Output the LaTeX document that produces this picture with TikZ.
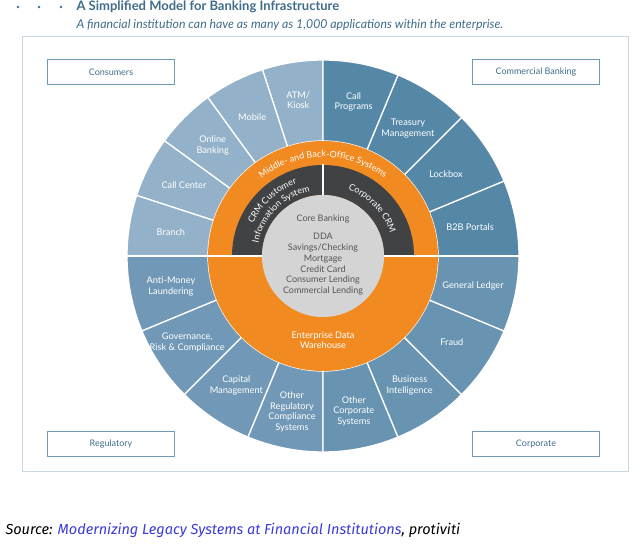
\documentclass[tikz,border=0pt]{standalone}
\usepackage{fontspec}
\setmainfont{Lato}
\newfontfamily\srcfont{Fira Sans}
\usetikzlibrary{positioning, decorations.text}

\definecolor{titleblue}{HTML}{3F6C8A}
\definecolor{boxblue}{HTML}{6F9AB5}
\definecolor{framegrey}{HTML}{C9D8E2}
\definecolor{ulblue}{HTML}{93B2C9}
\definecolor{urblue}{HTML}{5587A7}
\definecolor{llblue}{HTML}{7199B7}
\definecolor{lrblue}{HTML}{6893B1}
\definecolor{ringorange}{HTML}{F28A22}
\definecolor{darkring}{HTML}{404244}
\definecolor{coregrey}{HTML}{D4D4D4}
\definecolor{coretext}{HTML}{555555}
\definecolor{linkblue}{HTML}{3B3BD6}

\tikzset{
    segment/.style={draw=white, line width=1.3pt},
    seglabel/.style={text=white, font=\fontsize{9.2}{10.5}\selectfont, align=center},
    groupbox/.style={draw=boxblue, line width=1pt, minimum width=127pt, minimum height=25pt,
        text=titleblue, font=\fontsize{9}{10}\selectfont}
}

\begin{document}
\begin{tikzpicture}[x=1pt, y=1pt]
    \useasboundingbox (0,0) rectangle (640,546);

    % Title
    \node (title) [anchor=west, text=titleblue, font=\fontsize{13}{15}\selectfont\bfseries] at (73,539) {A Simplified Model for Banking Infrastructure};
    \node (subtitle) [anchor=west, text=titleblue, font=\fontsize{12.3}{14}\selectfont\itshape] at (73,521) {A financial institution can have as many as 1,000 applications within the enterprise.};
    \foreach \bx in {18,39,61}
        \fill[titleblue] (\bx,539) circle (1.3pt);

    % Frame
    \draw[framegrey, line width=1pt] (22,74) rectangle (628,509);

    % Groups
    \node (consumers) [groupbox] at (111,474) {Consumers};
    \node (commercial) [groupbox] at (536,474) {Commercial Banking};
    \node (regulatory) [groupbox] at (111,102) {Regulatory};
    \node (corporate) [groupbox] at (536,102) {Corporate};

    \begin{scope}[shift={(323,290)}]
        % Outer segments
        \foreach \a in {90,108,...,162}
            \fill[ulblue, segment] (\a:196) arc (\a:\a+18:196) -- (\a+18:115) arc (\a+18:\a:115) -- cycle;
        \foreach \a/\c in {0/urblue,22.5/urblue,45/urblue,67.5/urblue,
                           180/llblue,202.5/llblue,225/llblue,247.5/llblue,
                           270/lrblue,292.5/lrblue,315/lrblue,337.5/lrblue}
            \fill[\c, segment] (\a:196) arc (\a:\a+22.5:196) -- (\a+22.5:115) arc (\a+22.5:\a:115) -- cycle;

        % Middle rings
        \fill[ringorange] (0,0) circle (115);
        \fill[darkring] (0:91) arc (0:180:91) -- (180:61) arc (180:0:61) -- cycle;
        \draw[white, line width=1.3pt] (-196,0) -- (196,0);
        \draw[white, line width=1.3pt] (0,0) -- (0,92);
        \fill[coregrey] (0,0) circle (61);

        % Outer labels
        \node (branch) [seglabel] at (171:154) {Branch};
        \node (callcenter) [seglabel] at (153:156) {Call Center};
        \node (online) [seglabel] at (135:156) {Online\\Banking};
        \node (mobile) [seglabel] at (117:156) {Mobile};
        \node (atm) [seglabel] at (99:158) {ATM/\\Kiosk};
        \node (callprog) [seglabel] at (78.75:157) {Call\\Programs};
        \node (treasury) [seglabel] at (56.25:153) {Treasury\\Management};
        \node (lockbox) [seglabel] at (33.75:148) {Lockbox};
        \node (b2b) [seglabel] at (11.25:150) {B2B Portals};
        \node (ledger) [seglabel] at (-11.25:153) {General Ledger};
        \node (fraud) [seglabel] at (-33.75:155) {Fraud};
        \node (bi) [seglabel] at (-56.25:156) {Business\\Intelligence};
        \node (othercorp) [seglabel] at (-78.75:158) {Other\\Corporate\\Systems};
        \node (aml) [seglabel] at (191.25:155) {Anti-Money\\Laundering};
        \node (grc) [seglabel] at (212.5:161) {Governance,\\Risk \& Compliance};
        \node (capital) [seglabel] at (236.25:156) {Capital\\Management};
        \node (otherreg) [seglabel] at (258.75:159) {Other\\Regulatory\\Compliance\\Systems};

        % Ring labels
        \path[decorate, decoration={text along path, text align=center,
            text={|\fontsize{9}{10}\selectfont\color{white}|Middle- and Back-Office Systems}}]
            (150:99) arc (150:30:99);
        \path[decorate, decoration={text along path, text align=center,
            text={|\fontsize{9}{10}\selectfont\color{white}|CRM Customer}}]
            (170:77) arc (170:95:77);
        \path[decorate, decoration={text along path, text align=center,
            text={|\fontsize{9}{10}\selectfont\color{white}|Information System}}]
            (178:66) arc (178:92:66);
        \path[decorate, decoration={text along path, text align=center,
            text={|\fontsize{9}{10}\selectfont\color{white}|Corporate CRM}}]
            (88:71) arc (88:0:71);
        \node (edw) [seglabel] at (0,-84) {Enterprise Data\\Warehouse};

        % Core
        \node (core) [text=coretext, font=\fontsize{9}{10}\selectfont] at (0,37) {Core Banking};
        \node (products) [text=coretext, font=\fontsize{9}{10.8}\selectfont, align=center, below=3pt of core]
            {DDA\\Savings/Checking\\Mortgage\\Credit Card\\Consumer Lending\\Commercial Lending};
    \end{scope}

    % Source
    \node (source) [anchor=west, font=\srcfont\itshape\fontsize{14.5}{16}\selectfont] at (2,16)
        {Source: \textcolor{linkblue}{Modernizing Legacy Systems at Financial Institutions}, protiviti};
\end{tikzpicture}
\end{document}
